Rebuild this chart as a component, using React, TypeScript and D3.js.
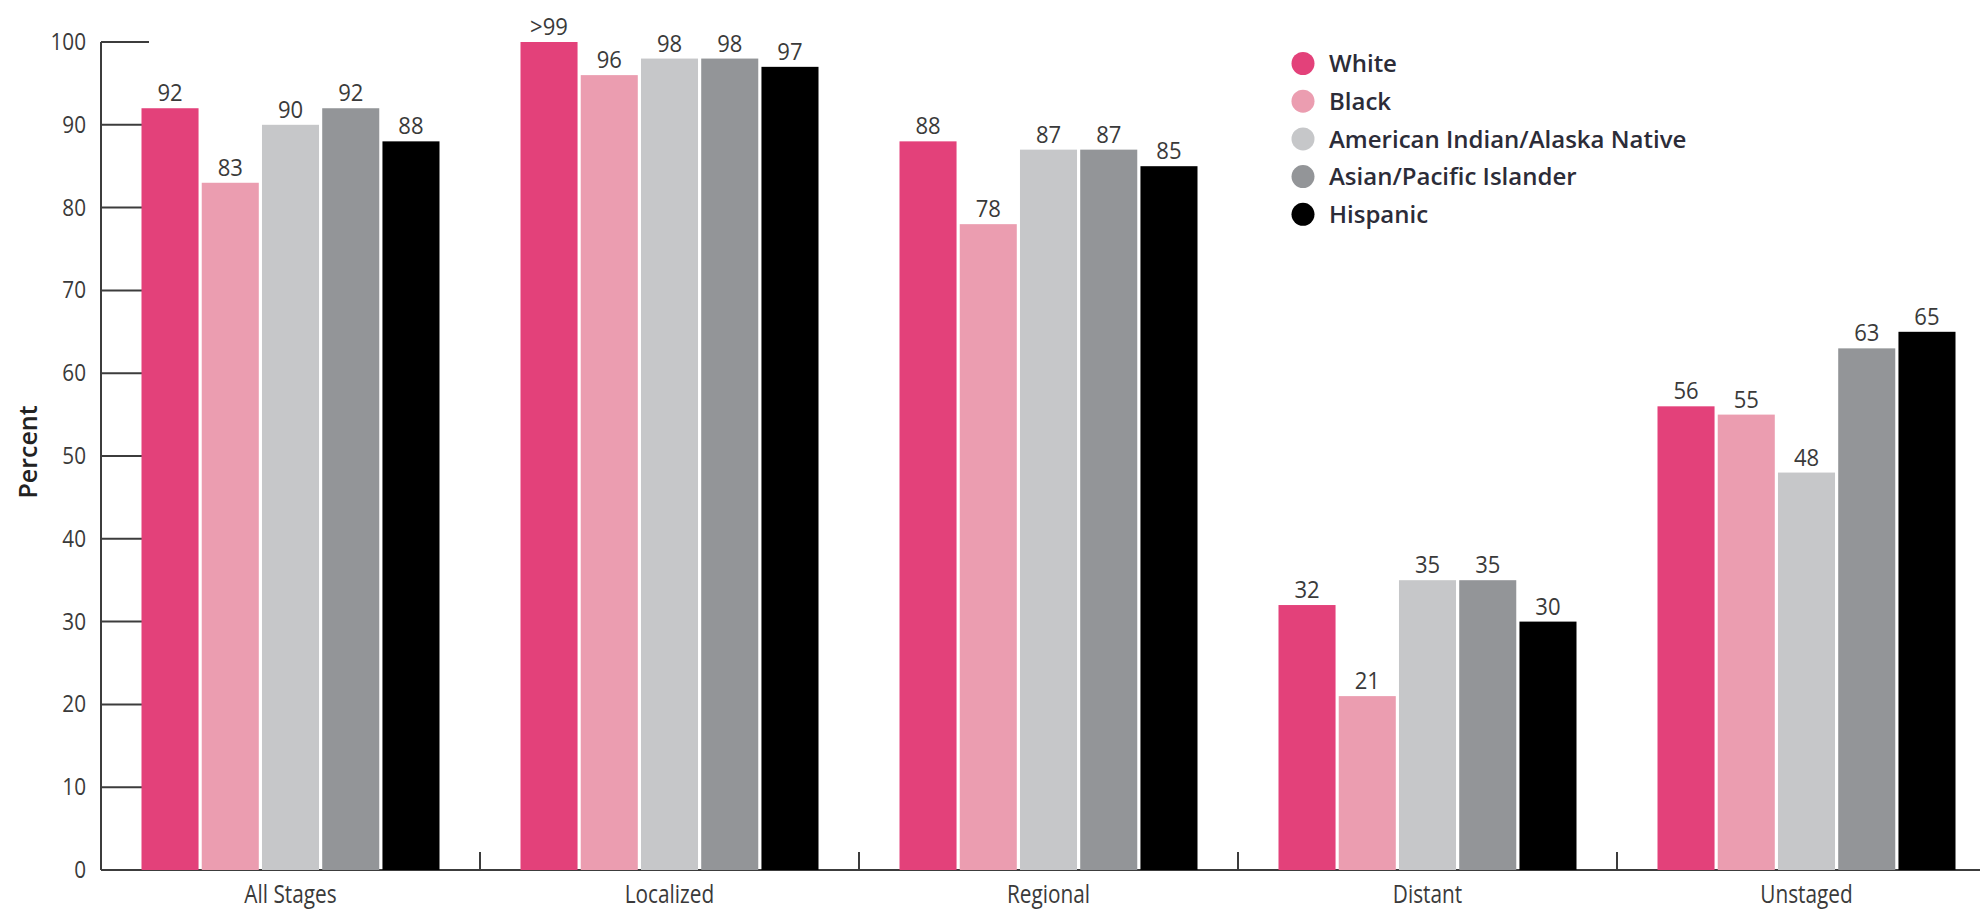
import React from "react";
import * as d3 from "d3";

const categories = ["All Stages", "Localized", "Regional", "Distant", "Unstaged"];
const seriesNames = ["White", "Black", "American Indian/Alaska Native", "Asian/Pacific Islander", "Hispanic"];
const seriesColors = ["#e3417a", "#eb9db0", "#c6c7c9", "#939598", "#000000"];
const white = [92, 100, 88, 32, 56];
const black = [83, 96, 78, 21, 55];
const aian = [90, 98, 87, 35, 48];
const api = [92, 98, 87, 35, 63];
const hispanic = [88, 97, 85, 30, 65];
const labelOverrides: Record<string, string> = { "White|Localized": ">99" };
const yTicks = [0, 10, 20, 30, 40, 50, 60, 70, 80, 90, 100];

const seriesValues = [white, black, aian, api, hispanic];

export default function App() {
  const W = 1980, H = 910;
  const x0 = 101;
  const band = 379;
  const x = d3.scaleBand<string>().domain(categories).range([x0, x0 + band * categories.length]).padding(0);
  const xs = d3.scaleBand<string>().domain(seriesNames).range([40.5, 338.5]).paddingInner(0.053).paddingOuter(0);
  const y = d3.scaleLinear().domain([0, 100]).range([870, 42]);
  const axisColor = "#3c3c3c";
  const textColor = "#3a3a3a";
  const font = "'Open Sans', sans-serif";

  return (
    <svg width={W} height={H} style={{ position: "absolute", left: 0, top: 0, background: "#fff" }}>
      {/* x axis line */}
      <line x1={x0} x2={W} y1={y(0)} y2={y(0)} stroke={axisColor} strokeWidth={2} />
      {/* y ticks */}
      {yTicks.map((t) => (
        <g key={t}>
          <line x1={x0} x2={x0 + 48} y1={y(t)} y2={y(t)} stroke={axisColor} strokeWidth={2} />
          <g transform={`translate(86,${y(t)}) scale(0.9,1)`}>
            <text dy="0.35em" textAnchor="end" fontFamily={font} fontSize={23} fill={textColor}>
              {t}
            </text>
          </g>
        </g>
      ))}
      <line x1={x0} x2={x0} y1={y(0)} y2={y(100)} stroke={axisColor} strokeWidth={2} />
      {/* group separators */}
      {categories.slice(1).map((c) => (
        <line key={c} x1={x(c)!} x2={x(c)!} y1={y(0)} y2={y(0) - 18} stroke={axisColor} strokeWidth={2} />
      ))}
      {/* bars */}
      {categories.map((c, ci) => (
        <g key={c} transform={`translate(${x(c)},0)`}>
          {seriesNames.map((s, si) => {
            const v = seriesValues[si][ci];
            const bx = xs(s)!;
            const bw = xs.bandwidth();
            const lbl = labelOverrides[`${s}|${c}`] ?? String(v);
            return (
              <g key={s}>
                <rect x={bx} y={y(v)} width={bw} height={y(0) - y(v)} fill={seriesColors[si]} />
                <g transform={`translate(${bx + bw / 2},${y(v) - 7}) scale(0.92,1)`}>
                  <text textAnchor="middle" fontFamily={font} fontSize={24} fill={textColor}>
                    {lbl}
                  </text>
                </g>
              </g>
            );
          })}
          <g transform={`translate(${band / 2},903) scale(0.8,1)`}>
            <text textAnchor="middle" fontFamily={font} fontSize={26} fill={textColor}>
              {c}
            </text>
          </g>
        </g>
      ))}
      {/* y label */}
      <text transform={`translate(37,452) rotate(-90)`} textAnchor="middle" fontFamily={font} fontWeight={600} fontSize={25} fill="#222">
        Percent
      </text>
      {/* legend */}
      {seriesNames.map((s, i) => (
        <g key={s} transform={`translate(1303,${63.5 + i * 37.7})`}>
          <circle r={11.5} fill={seriesColors[i]} />
          <text x={26} dy="0.36em" fontFamily={font} fontWeight={600} fontSize={24} fill="#2c2c38">
            {s}
          </text>
        </g>
      ))}
    </svg>
  );
}
